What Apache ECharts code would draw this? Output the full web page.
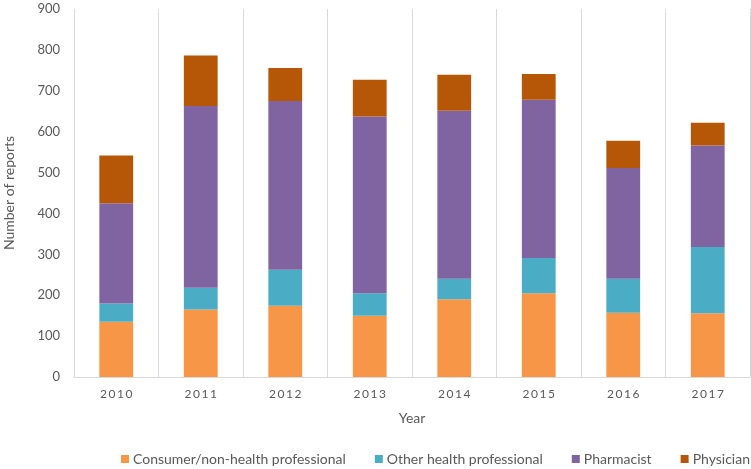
<!DOCTYPE html>
<html>
<head>
<meta charset="utf-8">
<script src="https://cdn.jsdelivr.net/npm/echarts@6/dist/echarts.min.js"></script>
<style>html,body{margin:0;padding:0;background:#fff}#c{width:751px;height:469px}</style>
</head>
<body>
<div id="c"></div>
<script>
var years = ['2010','2011','2012','2013','2014','2015','2016','2017'];
var consumer = [135, 165, 174, 150, 190, 205, 157, 156];
var otherHealth = [45, 53, 88, 55, 50, 86, 83, 162];
var pharmacist = [245, 445, 413, 432, 411, 387, 271, 248];
var physician = [117, 123, 81, 90, 88, 63, 67, 56];
var seriesNames = ['Consumer/non-health professional','Other health professional','Pharmacist','Physician'];
var colors = ['#F79646','#4BACC6','#8064A2','#B65708'];

var chart = echarts.init(document.getElementById('c'));
var font = 'Lato, "Open Sans", sans-serif';
function mk(name, data, color){
  return {name:name,type:'bar',stack:'a',data:data,barWidth:'40%',itemStyle:{color:color},animation:false};
}
chart.setOption({
  animation:false,
  textStyle:{fontFamily:font},
  color:colors,
  grid:{left:74,right:1,top:9,bottom:92,containLabel:false,outerBoundsMode:'none'},
  legend:{
    data:seriesNames,top:447,left:116,width:1000,padding:5,itemWidth:8,itemHeight:8,itemGap:29,icon:'rect',
    textStyle:{color:'#595959',fontSize:14,fontFamily:font,padding:[0,0,0,-1]}
  },
  xAxis:{
    type:'category',data:years,
    name:'Year',nameLocation:'middle',nameGap:34,
    nameTextStyle:{color:'#595959',fontSize:14,fontFamily:font},
    axisLine:{show:true,lineStyle:{color:'#d9d9d9'}},
    axisTick:{show:false},
    axisLabel:{color:'#595959',fontSize:12,margin:11,fontFamily:font,
      formatter:function(v){return v.split('').join('\u2009');}},
    splitLine:{show:true,lineStyle:{color:'#d9d9d9'}}
  },
  yAxis:{
    type:'value',min:0,max:900,interval:100,
    name:'Number of reports',nameLocation:'middle',nameGap:58,
    nameTextStyle:{color:'#595959',fontSize:14,fontFamily:font},
    axisLine:{show:false},axisTick:{show:false},
    axisLabel:{color:'#595959',fontSize:13,margin:14,fontFamily:font},
    splitLine:{show:false}
  },
  series:[
    mk(seriesNames[0],consumer,colors[0]),
    mk(seriesNames[1],otherHealth,colors[1]),
    mk(seriesNames[2],pharmacist,colors[2]),
    mk(seriesNames[3],physician,colors[3])
  ]
});
</script>
</body>
</html>
